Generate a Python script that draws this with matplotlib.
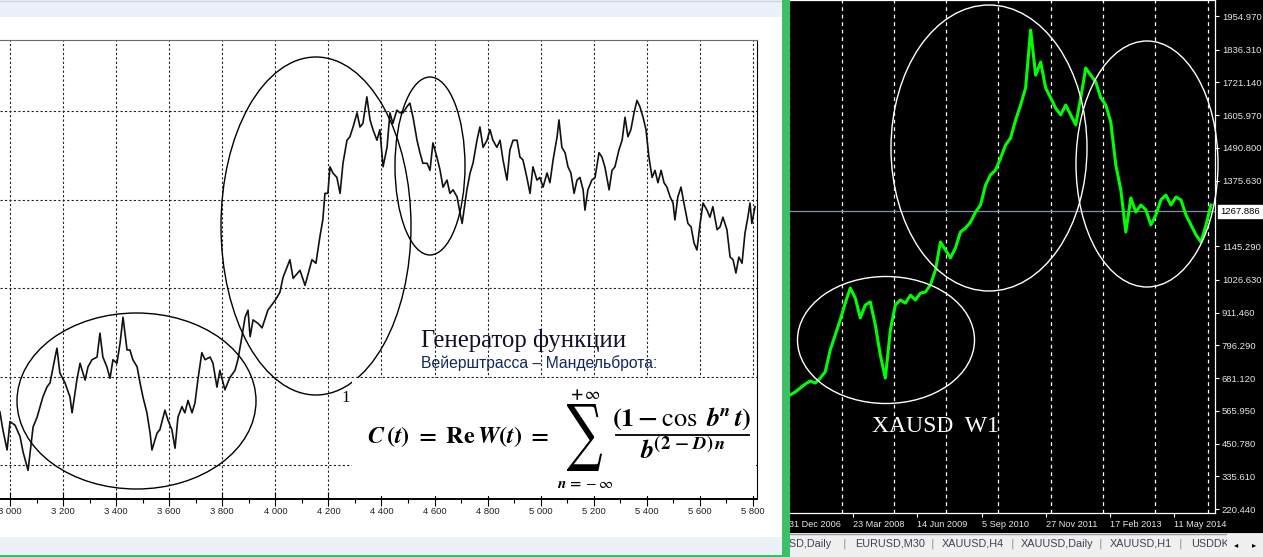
import numpy as np
import pandas as pd
import matplotlib
matplotlib.use('Agg')
import matplotlib.pyplot as plt
from matplotlib.patches import Ellipse, Rectangle, PathPatch
from matplotlib.ticker import MultipleLocator
from matplotlib.textpath import TextPath
from matplotlib.font_manager import FontProperties
from matplotlib.transforms import Affine2D

plt.rcParams['mathtext.fontset'] = 'stix'

# ---- left chart: Weierstrass-Mandelbrot generator output ----
wm_x = [2962, 2973, 2989, 3000, 3019, 3038, 3049, 3068, 3087, 3102, 3124, 3139, 3151, 3170, 3177,
        3188, 3207, 3226, 3234, 3252, 3264, 3283, 3294, 3309, 3328, 3339, 3350, 3365, 3377, 3388,
        3403, 3415, 3426, 3441, 3452, 3463, 3479, 3490, 3501, 3516, 3528, 3535, 3554, 3565, 3584,
        3595, 3610, 3622, 3633, 3648, 3659, 3671, 3686, 3697, 3708, 3723, 3735, 3754, 3765, 3780,
        3791, 3810, 3829, 3848, 3859, 3874, 3886, 3897, 3905, 3916, 3935, 3950, 3972, 3999, 4017,
        4029, 4055, 4067, 4093, 4112, 4138, 4153, 4168, 4179, 4187, 4198, 4206, 4217, 4232, 4244,
        4255, 4270, 4281, 4293, 4308, 4319, 4330, 4345, 4357, 4368, 4383, 4394, 4406, 4421, 4432,
        4443, 4458, 4470, 4481, 4496, 4507, 4519, 4534, 4545, 4556, 4572, 4583, 4594, 4609, 4621,
        4632, 4647, 4658, 4670, 4685, 4696, 4704, 4722, 4734, 4745, 4760, 4771, 4783, 4798, 4809,
        4820, 4835, 4847, 4858, 4873, 4884, 4896, 4911, 4922, 4933, 4948, 4960, 4971, 4986, 4997,
        5009, 5024, 5035, 5047, 5062, 5069, 5080, 5092, 5103, 5114, 5126, 5137, 5148, 5160, 5167,
        5178, 5193, 5205, 5220, 5231, 5242, 5258, 5269, 5280, 5295, 5307, 5318, 5329, 5340, 5352,
        5363, 5374, 5386, 5397, 5408, 5420, 5431, 5442, 5454, 5465, 5476, 5488, 5499, 5506, 5517,
        5529, 5540, 5555, 5567, 5578, 5589, 5601, 5612, 5627, 5638, 5649, 5665, 5676, 5687, 5702,
        5714, 5725, 5736, 5747, 5759, 5770, 5781, 5789, 5796, 5808]
wm_y = [60, 40, 17, 49, 45, 32, 15, -6, 43, 54, 77, 88, 93, 122, 132,
        104, 93, 77, 59, 96, 115, 96, 111, 119, 122, 149, 122, 111, 98, 119,
        115, 138, 167, 130, 130, 119, 111, 93, 77, 59, 36, 17, 36, 40, 62,
        51, 40, 19, 54, 66, 59, 73, 59, 70, 96, 127, 119, 122, 115, 88,
        107, 85, 99, 107, 119, 145, 167, 175, 145, 164, 160, 155, 175, 186, 195,
        212, 232, 211, 220, 203, 232, 228, 258, 277, 307, 307, 337, 330, 325, 307,
        341, 367, 371, 382, 398, 382, 386, 416, 390, 379, 367, 379, 337, 359, 398,
        386, 401, 398, 398, 405, 409, 393, 367, 353, 341, 341, 333, 364, 348, 333,
        314, 322, 307, 311, 303, 285, 273, 311, 330, 341, 367, 382, 359, 367, 379,
        367, 359, 367, 345, 322, 356, 367, 367, 348, 345, 325, 307, 337, 322, 325,
        314, 330, 319, 345, 371, 390, 359, 353, 337, 330, 307, 322, 325, 311, 288,
        311, 322, 325, 353, 348, 337, 311, 333, 337, 356, 367, 393, 371, 379, 398,
        412, 405, 393, 379, 348, 325, 333, 319, 333, 319, 314, 303, 296, 277, 303,
        314, 296, 273, 269, 251, 243, 273, 296, 288, 280, 292, 266, 269, 280, 266,
        235, 232, 217, 235, 228, 262, 280, 296, 273, 292]
wm_xticks = [3000, 3200, 3400, 3600, 3800, 4000, 4200, 4400, 4600, 4800, 5000, 5200, 5400, 5600, 5800]
wm_xticklabels = ['3 000', '3 200', '3 400', '3 600', '3 800', '4 000', '4 200', '4 400',
                  '4 600', '4 800', '5 000', '5 200', '5 400', '5 600', '5 800']

# ---- right chart: XAUUSD weekly (one reading every 5 weeks) ----
gold_start = '2007-01-07'
gold_close = [622, 632, 646, 660, 671, 664, 681, 703, 780, 833, 886, 945, 998, 963, 893,
              938, 949, 868, 762, 681, 850, 938, 956, 945, 973, 956, 980, 984, 1009, 1061,
              1160, 1132, 1104, 1139, 1195, 1209, 1230, 1265, 1290, 1360, 1396, 1413, 1455, 1501, 1526,
              1589, 1642, 1702, 1906, 1747, 1793, 1702, 1667, 1631, 1607, 1642, 1607, 1572, 1667, 1772,
              1747, 1723, 1667, 1642, 1582, 1431, 1343, 1195, 1315, 1265, 1290, 1273, 1220, 1255, 1308,
              1325, 1290, 1318, 1308, 1255, 1220, 1185, 1160, 1220, 1290]
gold_yticks = [1954.970, 1836.310, 1721.140, 1605.970, 1490.800, 1375.630, 1145.290, 1026.630,
               911.460, 796.290, 681.120, 565.950, 450.780, 335.610, 220.440]
gold_bid = 1267.886
gold_date_ticks = ['2006-12-31', '2008-03-23', '2009-06-14', '2010-09-05', '2011-11-27',
                   '2013-02-17', '2014-05-11']
gold_date_labels = ['31 Dec 2006', '23 Mar 2008', '14 Jun 2009', '5 Sep 2010', '27 Nov 2011',
                    '17 Feb 2013', '11 May 2014']
gold_year_grid = ['2007-01-01', '2008-01-01', '2009-01-01', '2010-01-01', '2011-01-01',
                  '2012-01-01', '2013-01-01', '2014-01-01', '2015-01-01']
tab_names = ['USD,Daily', 'EURUSD,M30', 'XAUUSD,H4', 'XAUUSD,Daily', 'XAUUSD,H1', 'USDDK']

W, H = 1263, 557
fig = plt.figure(figsize=(W / 100, H / 100), dpi=100)
fig.patch.set_facecolor('white')


def frac(x0, y0, x1, y1):
    # pixel box (top-left origin) -> figure fraction rect
    return [x0 / W, (H - y1) / H, (x1 - x0) / W, (y1 - y0) / H]


def pixel_axes(z):
    a = fig.add_axes([0, 0, 1, 1], zorder=z)
    a.set_xlim(0, W)
    a.set_ylim(H, 0)
    a.axis('off')
    a.patch.set_alpha(0)
    return a


# ---- window chrome behind the charts ----
bg = pixel_axes(-1)
bg.add_patch(Rectangle((0, 0), 782, 17, fc='#ecf1f9', ec='none'))
bg.plot([0, 782], [0.5, 0.5], color='#c8d5e8', lw=1)
bg.add_patch(Rectangle((0, 537), 782, 18, fc='#ecf1f9', ec='none'))
bg.add_patch(Rectangle((789, 0), 474, 533, fc='black', ec='none'))

# ---- left chart ----
axl = fig.add_axes(frac(0, 40, 757, 499))
axl.plot(wm_x, wm_y, color='#111111', lw=1.2, zorder=3)
axl.set_xlim(2962.3, 5815.4)
axl.set_ylim(-38.4, 480.3)
axl.set_xticks(wm_xticks)
axl.set_xticklabels(wm_xticklabels, fontsize=6.8, family='Liberation Sans', color='#222222')
axl.xaxis.set_minor_locator(MultipleLocator(100))
axl.set_yticks([0, 100, 200, 300, 400])
axl.tick_params(axis='y', left=False, labelleft=False)
axl.tick_params(axis='x', which='major', direction='inout', length=10, width=0.8, pad=1)
axl.tick_params(axis='x', which='minor', direction='out', length=3, width=0.8)
axl.grid(True, which='major', color='#222222', lw=0.8, linestyle=(0, (2, 2)))
axl.spines['left'].set_visible(False)
axl.spines['top'].set_color('#6a6a6a')
axl.spines['bottom'].set_linewidth(1.4)

# ---- right chart ----
axr = fig.add_axes(frac(789, 0, 1215, 513))
axr.set_facecolor('black')
gold_dates = pd.date_range(gold_start, periods=len(gold_close), freq='35D')
axr.plot(gold_dates, gold_close, color='#00ff00', lw=2.2, zorder=3)
axr.axhline(gold_bid, color='#7d8eb0', lw=0.9, zorder=2)
for d in gold_year_grid:
    axr.axvline(np.datetime64(d), color='white', lw=0.9, linestyle=(0, (3, 3)), zorder=1)
axr.set_xlim(np.datetime64('2006-12-30'), np.datetime64('2015-02-22'))
axr.set_ylim(206.6, 2011.3)
axr.yaxis.tick_right()
axr.set_yticks(gold_yticks)
axr.set_yticklabels(['%.3f' % v for v in gold_yticks], fontsize=6.8,
                    family='Liberation Sans', color='#e6e6e6')
axr.set_xticks([np.datetime64(d) for d in gold_date_ticks])
axr.set_xticklabels(gold_date_labels, fontsize=6.6, family='Liberation Sans',
                    color='#e6e6e6', ha='left')
axr.tick_params(colors='white', length=3, width=0.8, pad=2)
for lab in axr.get_xticklabels() + axr.get_yticklabels():
    lab.set_color('#e6e6e6')
for s in axr.spines.values():
    s.set_color('white')
    s.set_linewidth(0.9)
axr.spines['left'].set_visible(False)
axr.text(1.012, gold_bid, '%.3f' % gold_bid, transform=axr.get_yaxis_transform(),
         fontsize=6.8, family='Liberation Sans', color='black', va='center', ha='left',
         bbox=dict(boxstyle='square,pad=0.2', fc='white', ec='white'))

# ---- overlay in pixel coordinates: annotations ----
ov = pixel_axes(5)

# tab bar
ov.add_patch(Rectangle((789, 533), 474, 24, fc='#f0f0f0', ec='none', zorder=1))
ov.plot([789, 1263], [533.5, 533.5], color='#9a9a9a', lw=1, zorder=2)
ov.add_patch(Rectangle((0, 555), 790, 2, fc='#3dbf66', ec='none'))
tab_x = [781, 855, 942, 1021, 1110, 1191]
sep_x = [844, 932, 1012, 1100, 1180]
for x, name in zip(tab_x, tab_names):
    ov.text(x, 544, name, fontsize=7.8, family='Liberation Sans', color='#404058',
            va='center', ha='left', zorder=2)
for x in sep_x:
    ov.text(x, 544, '|', fontsize=8, family='DejaVu Sans', color='#8a8a8a',
            va='center', ha='center', zorder=2)
ov.add_patch(Rectangle((1227, 534), 36, 23, fc='#f0f0f0', ec='none', zorder=3))
ov.text(1236, 545, '\u25c2', fontsize=6, color='black', va='center', ha='center', zorder=4)
ov.text(1254, 545, '\u25b8', fontsize=6, color='black', va='center', ha='center', zorder=4)

# ellipses on the generator chart
for cx, cy, ew, eh in [(136.5, 401, 239, 176), (316, 226, 190, 338), (430, 166, 70, 178)]:
    ov.add_patch(Ellipse((cx, cy), ew, eh, fill=False, ec='black', lw=1.0, zorder=3))
ov.text(346, 398, '1', fontsize=12, family='Liberation Serif', color='black',
        va='center', ha='center', zorder=3)

# formula box
ov.add_patch(Rectangle((352, 378), 404, 118, fc='white', ec='none', zorder=4))
ov.text(421, 340, 'Генератор функции', fontsize=17.8, family='Liberation Serif',
        color='#10102a', va='center', ha='left', zorder=5)
ov.text(421, 363, 'Вейерштрасса – Мандельброта:', fontsize=11.3, family='Liberation Sans',
        color='#13285c', va='center', ha='left', zorder=5)
lhs = (r'$\mathbfit{C}\,\mathbf{(}\mathbfit{t}\mathbf{)}\ \mathbf{=}\ \mathbf{Re}\,\mathbfit{W}'
       r'\mathbf{(}\mathbfit{t}\mathbf{)}\ \mathbf{=}$')
ov.text(367, 437, lhs, fontsize=17.5, color='black', va='center', ha='left', zorder=5)
# summation sign stretched to the tall display form
sig = TextPath((0, 0), '\u2211', size=10, prop=FontProperties(family='DejaVu Serif'))
ext = sig.get_extents()
sig_tr = Affine2D().translate(-ext.x0, -ext.y1).scale(35 / ext.width, -67 / ext.height).translate(567, 404)
ov.add_patch(PathPatch(sig_tr.transform_path(sig), fc='black', ec='none', zorder=5))
ov.text(585, 394, r'$\mathbf{+}\,\infty$', fontsize=12, color='black', va='center', ha='center', zorder=5)
ov.text(585, 484, r'$\mathbfit{n}\,\mathbf{=}-\infty$', fontsize=11, color='black',
        va='center', ha='center', zorder=5)
ov.text(682, 419, r'$\mathbf{(1-\cos}\ \mathbfit{b}^{\mathbfit{n}}\,\mathbfit{t}\mathbf{)}$',
        fontsize=19, color='black', va='center', ha='center', zorder=5)
ov.plot([616, 749], [435, 435], color='black', lw=1.3, zorder=5)
ov.text(683, 452, r'$\mathbfit{b}^{\mathbf{(2\,-\,}\mathbfit{D}\mathbf{)}\,\mathbfit{n}}$',
        fontsize=19, color='black', va='center', ha='center', zorder=5)

# ellipses and caption on the gold chart
for cx, cy, ew, eh in [(886, 340, 177, 127), (989, 148, 196, 286), (1147, 164, 142, 246)]:
    ov.add_patch(Ellipse((cx, cy), ew, eh, fill=False, ec='white', lw=1.0, zorder=3))
ov.text(872, 426, 'XAUSD  W1', fontsize=17, family='Liberation Serif', color='white',
        va='center', ha='left', zorder=3)

# green separator bar
ov.add_patch(Rectangle((782, 0), 8, 557, fc='#3dbf66', ec='none', zorder=10))

fig.savefig('out.png', dpi=100)
